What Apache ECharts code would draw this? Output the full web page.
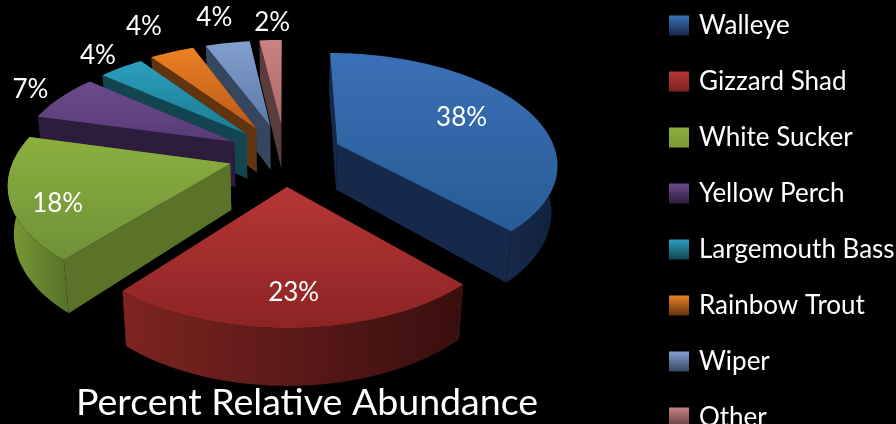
<!DOCTYPE html>
<html>
<head>
<meta charset="utf-8">
<style>html,body{margin:0;padding:0;background:#000;overflow:hidden}#c{width:896px;height:424px}</style>
<script src="https://cdn.jsdelivr.net/npm/echarts@6/dist/echarts.min.js"></script>
</head>
<body>
<div id="c"></div>
<script>
const categories = ['Walleye','Gizzard Shad','White Sucker','Yellow Perch','Largemouth Bass','Rainbow Trout','Wiper','Other'];
const percents = [38,23,18,7,4,4,4,2];
const chartTitle = 'Percent Relative Abundance';

const topColors   = [['#3a70b6','#285b96'],['#b73636','#8c2423'],['#8bb03f','#6f9138'],['#6d4b8e','#573c74'],['#2b9fbe','#1d7a90'],['#ec8024','#b85b19'],['#82a0ce','#5c7aa6'],['#cb8282','#a86a6a']];
const edgeColors  = ['#16294a','#5a1c1a','#5b7329','#2d1c3b','#134551','#61330f','#35465e','#5a3c3c'];
const rimColors   = [['#16294a','#10213a'],['#7d2421','#380f0d'],['#7a9c34','#55702a'],['#2d1c3b','#2d1c3b'],['#134551','#134551'],['#61330f','#61330f'],['#35465e','#35465e'],['#5a3c3c','#5a3c3c']];
const stackOrder  = [7,8,6,5,4,3,2,1];
const labelRadius = [0.68,0.78,0.81,1.2,1.22,1.39,1.37,1.24];
const labelTurn   = [-2,0,-7,0,0,0,0,1];
const explodeBy   = [0.265,0.29,0.265,0.27,0.27,0.29,0.29,0.29];
const radiusBy    = [1.02,1,1,1.01,1.01,1,1,1];

const view = {cx:285, cy:154.5, sx:215, sy:107, persp:6.3, depth:46, shrink:0.978};

function project(u, v, bottom) {
  const s = view.persp / (view.persp - v);
  const k = bottom ? view.shrink : 1;
  return [view.cx + view.sx * u * s * k, view.cy + view.sy * v * s + (bottom ? view.depth * s : 0)];
}
const grad = (c, h) => new echarts.graphic.LinearGradient(0,0,h?1:0,h?0:1,[{offset:0,color:c[0]},{offset:1,color:c[1]}]);

function renderSlice(params, api) {
  const i = params.seriesIndex;
  const share = api.value(0);
  const before = percents.slice(0,i).reduce((a,b)=>a+b,0);
  const total = percents.reduce((a,b)=>a+b,0);
  const a0 = before/total*2*Math.PI, a1 = (before+share)/total*2*Math.PI, mid=(a0+a1)/2;
  const ou = Math.sin(mid)*explodeBy[i], ov = -Math.cos(mid)*explodeBy[i], R = radiusBy[i];
  const pt = (a,b) => project(ou+Math.sin(a)*R, ov-Math.cos(a)*R, b);
  const apexT = project(ou,ov,false), apexB = project(ou,ov,true);
  const steps = Math.max(3, Math.ceil((a1-a0)/(Math.PI/90)));
  const arcT = [], arcB = [], angs = [];
  for (let k=0;k<=steps;k++){ const a=a0+(a1-a0)*k/steps; angs.push(a); arcT.push(pt(a,false)); arcB.push(pt(a,true)); }
  const children = [];
  children.push({type:'polygon',shape:{points:[apexT,arcT[steps],arcB[steps],apexB]},style:{fill:edgeColors[i]}});
  children.push({type:'polygon',shape:{points:[apexT,arcT[0],arcB[0],apexB]},style:{fill:edgeColors[i]}});
  const fT=[],fB=[];
  angs.forEach((a,k)=>{ if(Math.cos(a)<0.05){fT.push(arcT[k]);fB.push(arcB[k]);} });
  if (fT.length>1) children.push({type:'polygon',shape:{points:fT.concat(fB.slice().reverse())},style:{fill:grad(rimColors[i],true)}});
  children.push({type:'polygon',shape:{points:[apexT].concat(arcT)},style:{fill:grad(topColors[i],false)}});
  const r = labelRadius[i], la = mid + labelTurn[i]*Math.PI/180;
  const lp = project(ou+Math.sin(la)*r, ov-Math.cos(la)*r, false);
  children.push({type:'text',style:{text:share+'%',x:lp[0],y:lp[1],fill:'#fff',font:'26px Lato',align:'center',verticalAlign:'middle'}});
  return {type:'group',children};
}

const chart = echarts.init(document.getElementById('c'),null,{renderer:'canvas'});
chart.setOption({
  backgroundColor:'#000',
  animation:false,
  title:{text:chartTitle,left:76,top:384,padding:0,z:20,textStyle:{color:'#fff',fontFamily:'Lato',fontWeight:'normal',fontSize:37.5}},
  legend:{
    orient:'vertical',left:669,top:11,height:600,padding:0,itemWidth:20,itemHeight:20,itemGap:27,selectedMode:false,
    textStyle:{color:'#fff',fontFamily:'Lato',fontSize:26,lineHeight:20,padding:[9,0,0,5]},
    data:categories.map((n,i)=>({name:n,icon:'rect',itemStyle:{color:grad([topColors[i][0],rimColors[i][0]],false)}}))
  },
  series:categories.map((n,i)=>({
    type:'custom',name:n,coordinateSystem:'none',z:stackOrder[i],silent:true,
    itemStyle:{color:topColors[i][0]},
    renderItem:renderSlice,data:[[percents[i]]]
  }))
});
</script>
</body>
</html>
